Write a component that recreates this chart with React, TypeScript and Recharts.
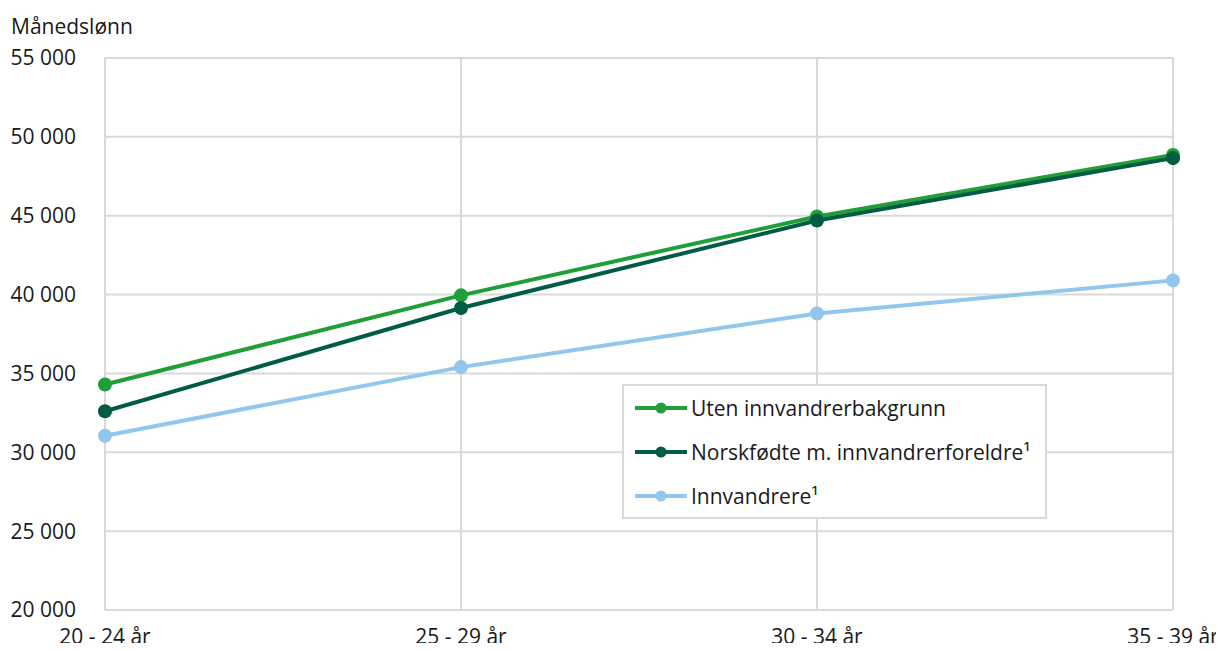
import React from 'react';
import { LineChart, Line, XAxis, YAxis, CartesianGrid } from 'recharts';

const ageGroups = ['20 - 24 år', '25 - 29 år', '30 - 34 år', '35 - 39 år'];
const utenBakgrunn = [34300, 39950, 44950, 48850];
const norskfodte = [32600, 39150, 44700, 48650];
const innvandrere = [31050, 35400, 38800, 40900];
const yTicks = [20000, 25000, 30000, 35000, 40000, 45000, 50000, 55000];

const series = [
  { key: 'uten', name: 'Uten innvandrerbakgrunn', color: '#1f9e3a' },
  { key: 'norsk', name: 'Norskfødte m. innvandrerforeldre¹', color: '#005c45' },
  { key: 'innv', name: 'Innvandrere¹', color: '#93c6ec' },
];

const data = ageGroups.map((age, i) => ({
  age,
  uten: utenBakgrunn[i],
  norsk: norskfodte[i],
  innv: innvandrere[i],
}));

const fmt = (v: number) => v.toLocaleString('nb-NO').replace(/\s/g, ' ');

const font = '"Open Sans", sans-serif';
const fontSize = 21;

const LegendBox = () => (
  <div
    style={{
      position: 'absolute',
      left: 622,
      top: 384,
      width: 421,
      height: 131,
      border: '2px solid #d9d9d9',
      background: '#fff',
      fontFamily: font,
      fontSize,
      color: '#1a1a1a',
    }}
  >
    {series.map((s, i) => (
      <div
        key={s.key}
        style={{ position: 'absolute', left: 9, top: 9 + i * 44, height: 26, display: 'flex', alignItems: 'center' }}
      >
        <svg width={56} height={26}>
          <line x1={2} y1={13} x2={54} y2={13} stroke={s.color} strokeWidth={4} />
          <circle cx={28} cy={13} r={5.5} fill={s.color} />
        </svg>
        <span style={{ marginLeft: 2, whiteSpace: 'nowrap' }}>{s.name}</span>
      </div>
    ))}
  </div>
);

const App = () => {
  return (
    <div style={{ position: 'relative', margin: -8, width: 1224, height: 651, background: '#fff' }}>
      <div style={{ position: 'absolute', left: 11, top: 12, fontFamily: font, fontSize, color: '#1a1a1a' }}>
        Månedslønn
      </div>
      <LineChart
        width={1224}
        height={651}
        data={data}
        margin={{ top: 58, right: 51, bottom: 0, left: 0 }}
        style={{ fontFamily: font, overflow: 'visible' }}
      >
        <CartesianGrid stroke="#d9d9d9" strokeWidth={2} />
        <XAxis
          dataKey="age"
          height={41}
          axisLine={false}
          tickLine={false}
          tickSize={0}
          tickMargin={19}
          tick={{ fill: '#1a1a1a', fontSize }}
          interval={0}
        />
        <YAxis
          width={105}
          domain={[20000, 55000]}
          ticks={yTicks}
          tickFormatter={fmt}
          axisLine={false}
          tickLine={false}
          tickSize={0}
          tickMargin={29}
          tick={{ fill: '#1a1a1a', fontSize }}
        />
        {series.map((s) => (
          <Line
            key={s.key}
            dataKey={s.key}
            name={s.name}
            stroke={s.color}
            strokeWidth={4}
            dot={{ r: 7, fill: s.color, stroke: s.color, strokeWidth: 0 }}
            activeDot={false}
            isAnimationActive={false}
          />
        ))}
      </LineChart>
      <LegendBox />
    </div>
  );
};

export default App;
